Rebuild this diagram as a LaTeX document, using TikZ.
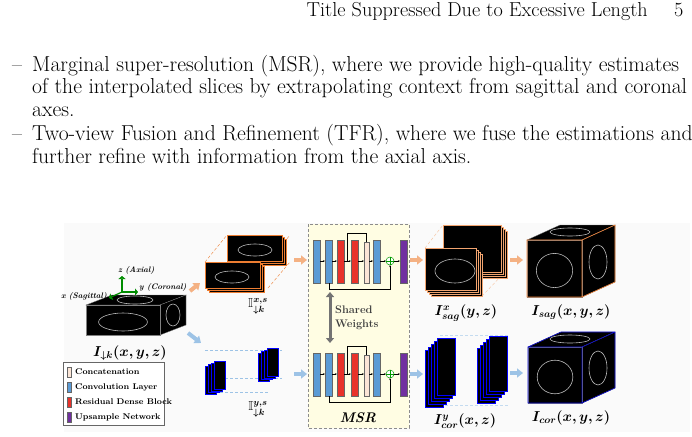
\documentclass[tikz,border=0pt]{standalone}
\usepackage{amsmath,amssymb,bm}
\usetikzlibrary{arrows.meta}
\definecolor{oarr}{HTML}{F4B183}
\definecolor{barr}{HTML}{9DC3E6}
\definecolor{oedge}{HTML}{ED7D31}
\definecolor{conv}{HTML}{5B9BD5}
\definecolor{rdb}{HTML}{E8322A}
\definecolor{cat}{HTML}{FBE5D6}
\definecolor{ups}{HTML}{7030A0}
\definecolor{msrbg}{HTML}{FFFDE3}
\tikzset{
 txt/.style={anchor=base west,inner sep=0,font=\fontsize{21.6}{24}\selectfont},
 lab/.style={font=\fontsize{13}{15}\selectfont,inner sep=0},
 leg/.style={anchor=west,inner sep=0,font=\fontsize{8.3}{10}\selectfont\bfseries},
 axl/.style={anchor=west,inner sep=0,font=\fontsize{8}{10}\selectfont\bfseries\itshape},
 oa/.style={oarr,line width=4pt,-{Triangle[length=6pt,width=9pt]}},
 ba/.style={barr,line width=4pt,-{Triangle[length=6pt,width=9pt]}},
 blk/.style={draw=black!60,line width=0.4pt},
 img/.style={fill=black,draw=black!50,line width=0.3pt},
 brain/.style={draw=gray!55,line width=0.6pt},
 sm/.style={-{Stealth[length=2pt]},line width=0.4pt},
}
\newcommand\myface[4]{%
 \fill[img] (#1,#2) rectangle (#3,#4);
 \draw[brain] ({(#1+#3)/2},{(#2+#4)/2+2}) ellipse ({(#3-#1)*0.33} and {(#4-#2)*0.3});}
\newcommand\mynet{%
 \foreach \a/\c in {313/conv,325/conv,337/rdb,351/rdb,373/conv}{\filldraw[blk,fill=\c] (\a,240) rectangle ++(7,43);}
 \filldraw[blk,fill=cat] (364,242) rectangle ++(5,41);
 \filldraw[blk,fill=ups] (400,240) rectangle ++(7,43);
 \draw[sm] (320,261)--(325,261); \draw[sm] (332,261)--(337,261); \draw[sm] (344,261)--(351,261);
 \draw[sm] (358,261)--(364,261); \draw[sm] (369,261)--(373,261); \draw[sm] (380,261)--(386,261);
 \draw[line width=0.4pt] (347,261)--(347,233)--(366,233)--(366,242);
 \draw[line width=0.4pt,-{Stealth[length=2pt]}] (329,283)--(329,289)--(390,289)--(390,265);
 \draw[green!60!black,line width=0.5pt,fill=white] (390,261) circle (4);
 \draw[green!60!black,line width=0.5pt] (386,261)--(394,261) (390,257)--(390,265);
 \draw[sm] (394,261)--(400,261);}
\begin{document}
\begin{tikzpicture}[x=1pt,y=-1pt]
\useasboundingbox (0,0) rectangle (692,436);
\fill[white] (0,0) rectangle (692,436);
\node[txt,anchor=base east,font=\fontsize{20.2}{24}\selectfont] (hdr) at (648,17) {Title Suppressed Due to Excessive Length};
\node[txt,font=\fontsize{20.2}{24}\selectfont] (pg) at (674,17) {5};
\node[txt] (d1) at (12,71) {--};
\node[txt] (l1) at (32,71) {Marginal super-resolution (MSR), where we provide high-quality estimates};
\node[txt] (l2) at (32,93) {of the interpolated slices by extrapolating context from sagittal and coronal};
\node[txt] (l3) at (32,116) {axes.};
\node[txt] (d2) at (12,140) {--};
\node[txt] (l4) at (32,140) {Two-view Fusion and Refinement (TFR), where we fuse the estimations and};
\node[txt] (l5) at (32,163) {further refine with information from the axial axis.};
\fill[black!2] (64,223) rectangle (690,432);
% input cube
\fill[img] (86,305)--(112,295)--(186,295)--(160,305)--cycle;
\fill[img] (160,305)--(186,295)--(186,325)--(160,335)--cycle;
\myface{86}{305}{160}{335}
\draw[brain] (135,300) ellipse (18 and 4);
\draw[brain] (173,315) ellipse (7 and 11);
\node[lab,font=\fontsize{14}{16}\selectfont] (iin) at (130,353) {$\bm{I_{\downarrow k}(x,y,z)}$};
\coordinate (o) at (122,292);
\draw[green!55!black,line width=1.2pt,-{Triangle[length=3pt]}] (o)--(122,276);
\draw[green!55!black,line width=1.2pt,-{Triangle[length=3pt]}] (o)--(138,292);
\draw[green!55!black,line width=1.2pt,-{Triangle[length=3pt]}] (o)--(109,298);
\node[axl] (az) at (118,270) {z (Axial)};
\node[axl] (ay) at (139,287) {y (Coronal)};
\node[axl,anchor=east] (ax) at (107,296) {x (Sagittal)};
\draw[oa] (190,291)--(200,283);
\draw[ba] (188,333)--(201,343);
% top input stack
\draw[oedge,densely dashed,line width=0.4pt] (205,262)--(227,235) (268,262)--(290,235) (268,288)--(290,262);
\foreach \i in {4,2,0}{\fill[img,draw=oedge] (227+\i,235+\i) rectangle ++(55,26);}
\draw[brain] (255,250) ellipse (17 and 6);
\foreach \i in {4,2,0}{\fill[img,draw=oedge] (205+\i,262+\i) rectangle ++(55,26);}
\draw[brain] (232,277) ellipse (17 and 6);
\node[lab] (ixs) at (258,306) {$\mathbb{I}^{\bm{x,s}}_{\bm{\downarrow k}}$};
% bottom input stack
\draw[barr,densely dashed,line width=0.5pt] (205,350)--(282,350) (205,378)--(282,378) (220,392)--(268,392);
\foreach \i in {0,3,6,9}{\fill[img,draw=blue,line width=0.8pt] (205+\i,366-\i*0.5) rectangle ++(11,28);}
\foreach \i in {0,3,6,9}{\fill[img,draw=blue,line width=0.8pt] (258+\i,353-\i*0.5) rectangle ++(11,28);}
\node[lab] (iys) at (258,409) {$\mathbb{I}^{\bm{y,s}}_{\bm{\downarrow k}}$};
\draw[oa] (294,260)--(307,260);
\draw[ba] (294,374)--(307,374);
% MSR
\filldraw[fill=msrbg,draw=black!45,densely dashed,line width=0.5pt] (308,224) rectangle (409,428);
\mynet
\begin{scope}[yshift=-113]\mynet\end{scope}
\draw[black!55,line width=3pt,{Triangle[length=5pt,width=8pt]}-{Triangle[length=5pt,width=8pt]}] (330,292)--(330,343);
\node[leg,font=\fontsize{11}{14}\selectfont\bfseries,align=left,text=black!75] (sw) at (335,318) {Shared\\Weights};
\node[lab,font=\fontsize{14}{16}\selectfont\bfseries\itshape] (msr) at (358,418) {MSR};
\draw[oa] (410,260)--(423,260);
\draw[ba] (410,374)--(423,374);
% sagittal output stack
\draw[oedge!50,densely dashed,line width=0.4pt] (425,248)--(443,225) (482,296)--(507,270);
\foreach \i in {6,4,2,0}{\fill[img,draw=oedge!70] (443+\i,225+\i) rectangle ++(58,47);}
\foreach \i in {6,4,2,0}{\fill[img,draw=oedge!70] (425+\i,248+\i) rectangle ++(51,42);}
\draw[brain] (455,271) ellipse (20 and 12);
\node[lab,font=\fontsize{14}{16}\selectfont] (isx) at (466,313) {$\bm{I^x_{sag}(y,z)}$};
\draw[oa] (510,260)--(523,260);
% sagittal cube
\fill[img] (527,240)--(560,225)--(615,225)--(582,240)--cycle;
\fill[img] (582,240)--(615,225)--(615,282)--(582,297)--cycle;
\myface{527}{240}{582}{297}
\draw[oedge,line width=0.6pt] (527,240) rectangle (582,297) (582,240)--(615,225)--(615,282)--(582,297);
\draw[brain] (598,262) ellipse (9 and 17);
\draw[brain] (570,232) ellipse (20 and 4);
\node[lab,font=\fontsize{14}{16}\selectfont] (isag) at (571,312) {$\bm{I_{sag}(x,y,z)}$};
% coronal output stack
\draw[barr!60,densely dashed,line width=0.4pt] (440,335)--(508,335) (440,405)--(508,405);
\foreach \i in {0,3,6,9,12}{\fill[img,draw=blue,line width=0.8pt] (425+\i,350-\i) rectangle ++(18,57);}
\foreach \i in {0,3,6,9,12}{\fill[img,draw=blue,line width=0.8pt] (477+\i,348-\i) rectangle ++(18,55);}
\node[lab,font=\fontsize{14}{16}\selectfont] (icy) at (465,421) {$\bm{I^y_{cor}(x,z)}$};
\draw[ba] (510,373)--(523,373);
% coronal cube
\fill[img] (528,347)--(561,332)--(615,332)--(582,347)--cycle;
\fill[img] (582,347)--(615,332)--(615,388)--(582,403)--cycle;
\myface{528}{347}{582}{403}
\draw[blue!80!black,line width=0.6pt] (528,347) rectangle (582,403) (582,347)--(615,332)--(615,388)--(582,403) (528,347)--(561,332)--(615,332);
\draw[brain] (598,368) ellipse (9 and 17);
\draw[brain] (570,339) ellipse (20 and 4);
\node[lab,font=\fontsize{14}{16}\selectfont] (icor) at (571,418) {$\bm{I_{cor}(x,y,z)}$};
% legend
\draw[black!60,line width=0.6pt,fill=white] (63,362) rectangle (164,425);
\foreach \c/\t/\y/\n in {cat/Concatenation/372/la,conv/Convolution Layer/387/lb,rdb/Residual Dense Block/402/lc,ups/Upsample Network/417/ld}{
 \filldraw[blk,fill=\c] (67,\y-5) rectangle ++(4,10);
 \node[leg] (\n) at (75,\y) {\t};}
\end{tikzpicture}
\end{document}
